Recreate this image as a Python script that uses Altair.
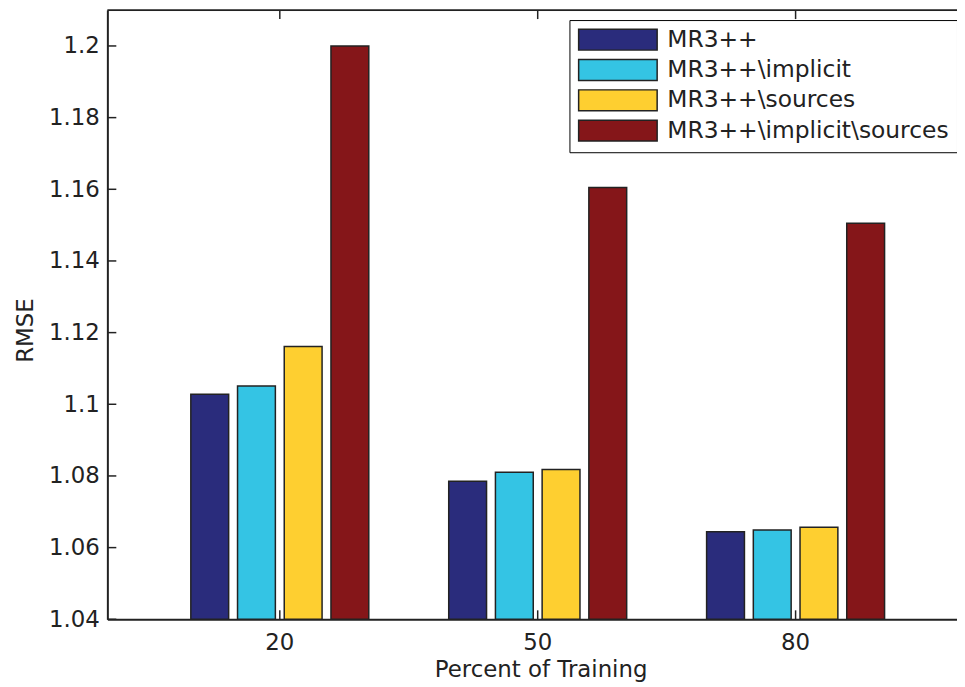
import altair as alt
import pandas as pd

groups = ["20", "50", "80"]
methods = ["MR3++", "MR3++\\implicit", "MR3++\\sources", "MR3++\\implicit\\sources"]
mr3 = [1.1028, 1.0785, 1.0644]
mr3_implicit = [1.1051, 1.0810, 1.0649]
mr3_sources = [1.1161, 1.0818, 1.0657]
mr3_implicit_sources = [1.2000, 1.1605, 1.1505]
colors = ["#2a2c7c", "#34c4e4", "#fecf30", "#851619"]
y_ticks = [1.04, 1.06, 1.08, 1.10, 1.12, 1.14, 1.16, 1.18, 1.20]

FONT = "DejaVu Sans"
W, H = 855, 613
INK = "#222222"

rows = []
for m, series in zip(methods, [mr3, mr3_implicit, mr3_sources, mr3_implicit_sources]):
    for g, v in zip(groups, series):
        rows.append({"group": g, "method": m, "rmse": v})
df = pd.DataFrame(rows)

x_scale = alt.Scale(domain=groups, paddingInner=0.2755, paddingOuter=0.285, align=0.5375, round=False)
y_scale = alt.Scale(domain=[1.04, 1.21], nice=False, zero=False)

x_axis = alt.Axis(title="Percent of Training", labelAngle=0, ticks=False, tickSize=0,
                  domainColor=INK, domainWidth=2, labelPadding=12,
                  titlePadding=5, titleX=436,
                  labelFont=FONT, labelFontSize=23, labelColor=INK,
                  titleFont=FONT, titleFontSize=23, titleFontWeight="normal",
                  titleColor=INK)
y_axis = alt.Axis(values=y_ticks, format=".2~f", title="RMSE", ticks=False, tickSize=0, grid=False,
                  domainColor=INK, domainWidth=2, labelPadding=8,
                  labelFont=FONT, labelFontSize=23, labelColor=INK,
                  titleFont=FONT, titleFontSize=23, titleFontWeight="normal",
                  titleColor=INK, titleX=-75, titleY=322, titleBaseline="alphabetic")

bars = alt.Chart(df).mark_bar(stroke=INK, strokeWidth=1.5).encode(
    x=alt.X("group:N", scale=x_scale, sort=groups, axis=x_axis),
    xOffset=alt.XOffset("method:N", sort=methods,
                        scale=alt.Scale(domain=methods, paddingInner=0.19, paddingOuter=0.095)),
    y=alt.Y("rmse:Q", scale=y_scale, axis=y_axis),
    y2=alt.datum(1.04),
    color=alt.Color("method:N", sort=methods,
                    scale=alt.Scale(domain=methods, range=colors),
                    legend=alt.Legend(title=None, orient="none", legendX=465, legendY=10,
                                      direction="vertical",
                                      symbolType="M-1,-1H6.524V1H-1Z", symbolSize=441,
                                      symbolStrokeColor=INK, symbolStrokeWidth=1.5,
                                      symbolOpacity=1,
                                      labelFont=FONT, labelFontSize=23.5, labelColor=INK,
                                      labelOffset=67, labelLimit=500, rowPadding=2.5,
                                      strokeColor="black", fillColor="white", padding=8)),
)

ytick_df = pd.DataFrame({"rmse": y_ticks})
xtick_df = pd.DataFrame({"group": groups})

y_ticks_layer = alt.Chart(ytick_df).mark_rule(color=INK, strokeWidth=1.5).encode(
    y=alt.Y("rmse:Q", scale=y_scale, axis=y_axis),
    x=alt.value(0), x2=alt.value(9),
)
x_ticks_bottom = alt.Chart(xtick_df).mark_rule(color=INK, strokeWidth=1.5).encode(
    x=alt.X("group:N", scale=x_scale, sort=groups, axis=x_axis),
    y=alt.value(H), y2=alt.value(H - 9),
)
x_ticks_top = alt.Chart(xtick_df).mark_rule(color=INK, strokeWidth=1.5).encode(
    x=alt.X("group:N", scale=x_scale, sort=groups, axis=x_axis),
    y=alt.value(0), y2=alt.value(9),
)
top_line = alt.Chart(pd.DataFrame({"a": [0]})).mark_rule(color=INK, strokeWidth=2).encode(
    x=alt.value(0), x2=alt.value(W), y=alt.value(0),
)

chart = alt.layer(bars, y_ticks_layer, x_ticks_bottom, x_ticks_top, top_line).properties(
    width=W, height=H,
    autosize=alt.AutoSizeParams(type="none"),
    padding={"left": 100, "top": 0, "right": 0, "bottom": 64},
).configure_view(stroke=None).configure(background="white")

chart.save("out.html", embed_options={"renderer": "svg", "actions": False})
